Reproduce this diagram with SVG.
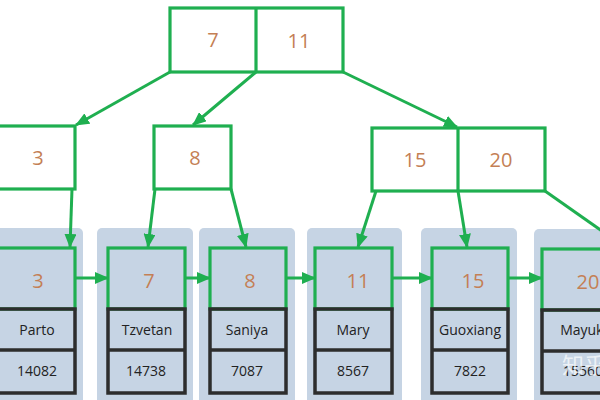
<svg xmlns="http://www.w3.org/2000/svg" width="600" height="400" viewBox="0 0 600 400">
<defs>
<marker id="ah" markerUnits="userSpaceOnUse" markerWidth="14" markerHeight="12" refX="13" refY="6" orient="auto">
<path d="M0,0 L14,6 L0,12 Z" fill="#1faf50"/>
</marker>
</defs>
<style>
.g{fill:none;stroke:#1faf50;stroke-width:3.2}
.gw{fill:#fff;stroke:#1faf50;stroke-width:3.2}
.panel{fill:#c6d4e4}
.blk{fill:none;stroke:#2d2d2d;stroke-width:3.5}
.k{font-family:"Open Sans","DejaVu Sans",sans-serif;font-size:20px;fill:#c47f55;text-anchor:middle}
.n{font-family:"Open Sans","DejaVu Sans",sans-serif;font-size:14px;fill:#222;text-anchor:middle}
.c{fill:none;stroke:#1faf50;stroke-width:3}
</style>
<rect width="600" height="400" fill="#fff"/>
<g id="root">
<rect class="gw" x="170" y="8" width="173" height="64"/>
<line class="g" x1="256" y1="8" x2="256" y2="72"/>
<text class="k" x="213" y="47">7</text>
<text class="k" x="299" y="48">11</text>
</g>
<g id="n3">
<rect class="gw" x="-3" y="126" width="78" height="63"/>
<text class="k" x="38" y="165">3</text>
</g>
<g id="n8">
<rect class="gw" x="154" y="126" width="77" height="63"/>
<text class="k" x="195" y="165">8</text>
</g>
<g id="n1520">
<rect class="gw" x="372" y="128" width="173" height="63"/>
<line class="g" x1="458" y1="128" x2="458" y2="191"/>
<text class="k" x="415" y="167">15</text>
<text class="k" x="501" y="167">20</text>
</g>
<g id="leaf3">
<rect class="panel" x="-10" y="228" width="93" height="180" rx="5"/>
<rect class="g" x="-3" y="248" width="78" height="61"/>
<rect class="blk" x="-3" y="309" width="78" height="84"/>
<line class="blk" x1="-3" y1="350" x2="75" y2="350"/>
<text class="k" x="38" y="288">3</text>
<text class="n" x="37" y="335">Parto</text>
<text class="n" x="37" y="376">14082</text>
</g>
<g id="leaf7">
<rect class="panel" x="97" y="228" width="96" height="180" rx="5"/>
<rect class="g" x="108" y="248" width="77" height="61"/>
<rect class="blk" x="108" y="309" width="77" height="84"/>
<line class="blk" x1="108" y1="350" x2="185" y2="350"/>
<text class="k" x="149" y="288">7</text>
<text class="n" x="147" y="335">Tzvetan</text>
<text class="n" x="146" y="376">14738</text>
</g>
<g id="leaf8">
<rect class="panel" x="199" y="228" width="96" height="180" rx="5"/>
<rect class="g" x="210" y="248" width="76" height="61"/>
<rect class="blk" x="210" y="309" width="76" height="84"/>
<line class="blk" x1="210" y1="350" x2="286" y2="350"/>
<text class="k" x="250" y="288">8</text>
<text class="n" x="247" y="335">Saniya</text>
<text class="n" x="247" y="376">7087</text>
</g>
<g id="leaf11">
<rect class="panel" x="307" y="228" width="95" height="180" rx="5"/>
<rect class="g" x="315" y="248" width="77" height="61"/>
<rect class="blk" x="315" y="309" width="77" height="84"/>
<line class="blk" x1="315" y1="350" x2="392" y2="350"/>
<text class="k" x="358" y="288">11</text>
<text class="n" x="353" y="335">Mary</text>
<text class="n" x="353" y="376">8567</text>
</g>
<g id="leaf15">
<rect class="panel" x="421" y="228" width="96" height="180" rx="5"/>
<rect class="g" x="432" y="248" width="76" height="61"/>
<rect class="blk" x="432" y="309" width="76" height="84"/>
<line class="blk" x1="432" y1="350" x2="508" y2="350"/>
<text class="k" x="473" y="288">15</text>
<text class="n" x="470" y="335">Guoxiang</text>
<text class="n" x="470" y="376">7822</text>
</g>
<g id="leaf20">
<rect class="panel" x="534" y="229" width="96" height="180" rx="5"/>
<rect class="g" x="542" y="249" width="77" height="61"/>
<rect class="blk" x="542" y="310" width="77" height="83"/>
<line class="blk" x1="542" y1="351" x2="619" y2="351"/>
<text class="k" x="588" y="289">20</text>
<text class="n" x="586" y="335">Mayuko</text>
<text class="n" x="583" y="376">15560</text>
</g>
<g id="connectors">
<line class="c" x1="170" y1="72" x2="76" y2="125" marker-end="url(#ah)"/>
<line class="c" x1="256" y1="72" x2="193" y2="125" marker-end="url(#ah)"/>
<line class="c" x1="343" y1="72" x2="457" y2="127" marker-end="url(#ah)"/>
<line class="c" x1="72" y1="189" x2="70" y2="247" marker-end="url(#ah)"/>
<line class="c" x1="155" y1="189" x2="148" y2="247" marker-end="url(#ah)"/>
<line class="c" x1="231" y1="189" x2="246" y2="247" marker-end="url(#ah)"/>
<line class="c" x1="376" y1="191" x2="358" y2="247" marker-end="url(#ah)"/>
<line class="c" x1="458" y1="191" x2="467" y2="247" marker-end="url(#ah)"/>
<line class="c" x1="545" y1="191" x2="612" y2="238"/>
<line class="c" x1="75" y1="278" x2="108" y2="278" marker-end="url(#ah)"/>
<line class="c" x1="185" y1="278" x2="210" y2="278" marker-end="url(#ah)"/>
<line class="c" x1="286" y1="278" x2="315" y2="278" marker-end="url(#ah)"/>
<line class="c" x1="392" y1="278" x2="432" y2="278" marker-end="url(#ah)"/>
<line class="c" x1="508" y1="278" x2="542" y2="278" marker-end="url(#ah)"/>
</g>
<text x="562" y="373" font-family="'Noto Sans CJK SC',sans-serif" font-size="22" fill="#ffffff" fill-opacity="0.7">知乎</text>
</svg>
